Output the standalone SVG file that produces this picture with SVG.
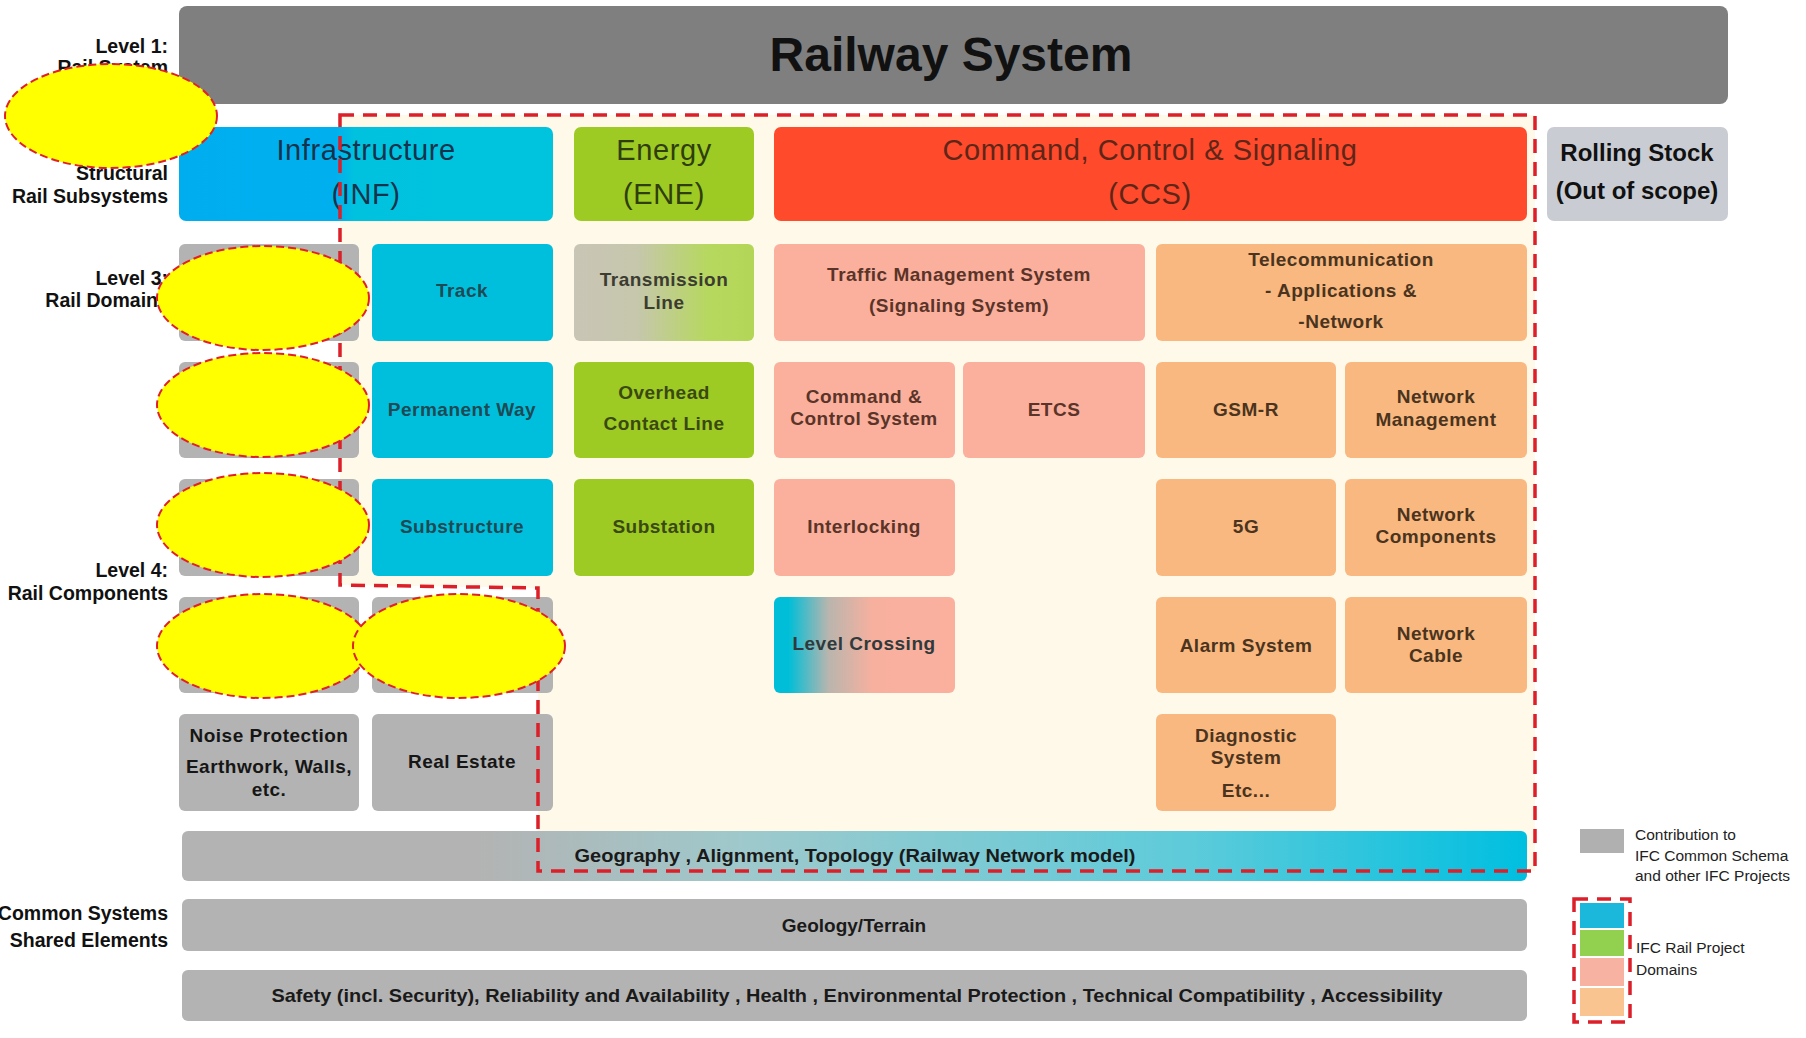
<svg xmlns="http://www.w3.org/2000/svg" width="1806" height="1038" viewBox="0 0 1806 1038">
<defs>
<style>
.lbl{font-family:"Liberation Sans",Arial,sans-serif;font-weight:bold;font-size:19.5px;fill:#111;text-anchor:end}
.ttl{font-family:"Liberation Sans",Arial,sans-serif;font-size:29px;letter-spacing:0.6px;text-anchor:middle}
.bx{font-family:"Liberation Sans",Arial,sans-serif;font-weight:bold;font-size:19px;letter-spacing:0.5px;text-anchor:middle}
.band{font-family:"Liberation Sans",Arial,sans-serif;font-weight:bold;font-size:19px;text-anchor:middle;fill:#1a1a1a}
.leg{font-family:"Liberation Sans",Arial,sans-serif;font-size:15.5px;fill:#222}
.cy{fill:#00BFDD}.gr{fill:#9DCB24}.sa{fill:#FBB09E}.pe{fill:#F9B87F}.gy{fill:#B3B3B3}
.tcy{fill:#1d4a54}.tgr{fill:#3a4812}.tsa{fill:#5a3428}.tpe{fill:#4a3420}.tgy{fill:#161616}
.ell{fill:#FFFF00;stroke:#E0202A;stroke-width:2;stroke-dasharray:8 4}
</style>
<linearGradient id="gInf" x1="0" x2="1" y1="0" y2="0">
<stop offset="0" stop-color="#00AEEF"/><stop offset="0.42" stop-color="#00B0EE"/><stop offset="0.47" stop-color="#00C2DF"/><stop offset="1" stop-color="#00C4DD"/>
</linearGradient>
<linearGradient id="gTrans" x1="0" x2="1" y1="0" y2="0">
<stop offset="0" stop-color="#C9C5B6"/><stop offset="0.35" stop-color="#C6C7AC"/><stop offset="0.75" stop-color="#B6D85E"/><stop offset="1" stop-color="#B4D657"/>
</linearGradient>
<linearGradient id="gLC" x1="0" x2="1" y1="0" y2="0">
<stop offset="0" stop-color="#00BED8"/><stop offset="0.08" stop-color="#00BED8"/><stop offset="0.3" stop-color="#B9B5AE"/><stop offset="0.55" stop-color="#F8B09E"/><stop offset="1" stop-color="#FBB09E"/>
</linearGradient>
<linearGradient id="gGeo" x1="0" x2="1" y1="0" y2="0">
<stop offset="0" stop-color="#B3B3B3"/><stop offset="0.22" stop-color="#B3B3B3"/><stop offset="0.42" stop-color="#9EC9CC"/><stop offset="0.75" stop-color="#5DCBDA"/><stop offset="1" stop-color="#00BFE0"/>
</linearGradient>
</defs>
<rect width="1806" height="1038" fill="#FFFFFF"/>

<g id="scope-area">
<polygon points="340,115 1535,115 1535,871 538,871 538,588 340,585" fill="#FFF9EA"/>
</g>

<g id="labels">
<text class="lbl" x="168" y="53">Level 1:</text>
<text class="lbl" x="168" y="74">Rail System</text>
<text class="lbl" x="168" y="180">Structural</text>
<text class="lbl" x="168" y="203">Rail Subsystems</text>
<text class="lbl" x="168" y="285">Level 3:</text>
<text class="lbl" x="158" y="307">Rail Domain</text>
<text class="lbl" x="168" y="577">Level 4:</text>
<text class="lbl" x="168" y="600">Rail Components</text>
<text class="lbl" x="168" y="920">Common Systems</text>
<text class="lbl" x="168" y="947">Shared Elements</text>
</g>

<g id="railway-system">
<rect x="179" y="6" width="1549" height="98" rx="8" fill="#7F7F7F"/>
<text x="951" y="71" font-family="Liberation Sans, Arial, sans-serif" font-weight="bold" font-size="48" text-anchor="middle" fill="#111">Railway System</text>
</g>

<g id="inf">
<rect x="179" y="127" width="374" height="94" rx="7" fill="url(#gInf)"/>
<text class="ttl" x="366" y="160" fill="#16334d">Infrastructure</text>
<text class="ttl" x="366" y="204" fill="#16334d">(INF)</text>
</g>
<g id="ene">
<rect x="574" y="127" width="180" height="94" rx="7" class="gr"/>
<text class="ttl" x="664" y="160" fill="#2f3e0c">Energy</text>
<text class="ttl" x="664" y="204" fill="#2f3e0c">(ENE)</text>
</g>
<g id="ccs">
<rect x="774" y="127" width="753" height="94" rx="7" fill="#FF4A2B"/>
<text class="ttl" x="1150" y="160" fill="#5e2618">Command, Control &amp; Signaling</text>
<text class="ttl" x="1150" y="204" fill="#5e2618">(CCS)</text>
</g>
<g id="rolling-stock">
<rect x="1547" y="127" width="181" height="94" rx="7" fill="#C9CDD3"/>
<text x="1637" y="161" font-family="Liberation Sans, Arial, sans-serif" font-weight="bold" font-size="24" text-anchor="middle" fill="#111">Rolling Stock</text>
<text x="1637" y="199" font-family="Liberation Sans, Arial, sans-serif" font-weight="bold" font-size="24" text-anchor="middle" fill="#111">(Out of scope)</text>
</g>

<g id="gray-r3"><rect x="179" y="244" width="180" height="97" rx="6" class="gy"/></g>
<g id="gray-r4"><rect x="179" y="362" width="180" height="96" rx="6" class="gy"/></g>
<g id="gray-r5"><rect x="179" y="479" width="180" height="97" rx="6" class="gy"/></g>
<g id="gray-r6a"><rect x="179" y="597" width="180" height="96" rx="6" class="gy"/></g>
<g id="gray-r6b"><rect x="372" y="597" width="181" height="96" rx="6" class="gy"/></g>

<g id="track"><rect x="372" y="244" width="181" height="97" rx="6" class="cy"/><text class="bx tcy" x="462" y="297">Track</text></g>
<g id="permanent-way"><rect x="372" y="362" width="181" height="96" rx="6" class="cy"/><text class="bx tcy" x="462" y="416">Permanent Way</text></g>
<g id="substructure"><rect x="372" y="479" width="181" height="97" rx="6" class="cy"/><text class="bx tcy" x="462" y="533">Substructure</text></g>

<g id="transmission-line"><rect x="574" y="244" width="180" height="97" rx="6" fill="url(#gTrans)"/><text class="bx" x="664" y="286" fill="#3c3c30">Transmission</text><text class="bx" x="664" y="309" fill="#3c3c30">Line</text></g>
<g id="overhead-contact-line"><rect x="574" y="362" width="180" height="96" rx="6" class="gr"/><text class="bx tgr" x="664" y="399">Overhead</text><text class="bx tgr" x="664" y="430">Contact Line</text></g>
<g id="substation"><rect x="574" y="479" width="180" height="97" rx="6" class="gr"/><text class="bx tgr" x="664" y="533">Substation</text></g>

<g id="traffic-management"><rect x="774" y="244" width="371" height="97" rx="6" class="sa"/><text class="bx tsa" x="959" y="281">Traffic Management System</text><text class="bx tsa" x="959" y="312">(Signaling System)</text></g>
<g id="command-control"><rect x="774" y="362" width="181" height="96" rx="6" class="sa"/><text class="bx tsa" x="864" y="403">Command &amp;</text><text class="bx tsa" x="864" y="425">Control System</text></g>
<g id="etcs"><rect x="963" y="362" width="182" height="96" rx="6" class="sa"/><text class="bx tsa" x="1054" y="416">ETCS</text></g>
<g id="interlocking"><rect x="774" y="479" width="181" height="97" rx="6" class="sa"/><text class="bx tsa" x="864" y="533">Interlocking</text></g>
<g id="level-crossing"><rect x="774" y="597" width="181" height="96" rx="6" fill="url(#gLC)"/><text class="bx" x="864" y="650" fill="#303a3c">Level Crossing</text></g>

<g id="telecommunication"><rect x="1156" y="244" width="371" height="97" rx="6" class="pe"/><text class="bx tpe" x="1341" y="266">Telecommunication</text><text class="bx tpe" x="1341" y="297">- Applications &amp;</text><text class="bx tpe" x="1341" y="328">-Network</text></g>
<g id="gsm-r"><rect x="1156" y="362" width="180" height="96" rx="6" class="pe"/><text class="bx tpe" x="1246" y="416">GSM-R</text></g>
<g id="network-management"><rect x="1345" y="362" width="182" height="96" rx="6" class="pe"/><text class="bx tpe" x="1436" y="403">Network</text><text class="bx tpe" x="1436" y="426">Management</text></g>
<g id="g5"><rect x="1156" y="479" width="180" height="97" rx="6" class="pe"/><text class="bx tpe" x="1246" y="533">5G</text></g>
<g id="network-components"><rect x="1345" y="479" width="182" height="97" rx="6" class="pe"/><text class="bx tpe" x="1436" y="521">Network</text><text class="bx tpe" x="1436" y="543">Components</text></g>
<g id="alarm-system"><rect x="1156" y="597" width="180" height="96" rx="6" class="pe"/><text class="bx tpe" x="1246" y="652">Alarm System</text></g>
<g id="network-cable"><rect x="1345" y="597" width="182" height="96" rx="6" class="pe"/><text class="bx tpe" x="1436" y="640">Network</text><text class="bx tpe" x="1436" y="662">Cable</text></g>
<g id="diagnostic-system"><rect x="1156" y="714" width="180" height="97" rx="6" class="pe"/><text class="bx tpe" x="1246" y="742">Diagnostic</text><text class="bx tpe" x="1246" y="764">System</text><text class="bx tpe" x="1246" y="797">Etc...</text></g>

<g id="noise-protection"><rect x="179" y="714" width="180" height="97" rx="6" class="gy"/><text class="bx tgy" x="269" y="742">Noise Protection</text><text class="bx tgy" x="269" y="773">Earthwork, Walls,</text><text class="bx tgy" x="269" y="796">etc.</text></g>
<g id="real-estate"><rect x="372" y="714" width="181" height="97" rx="6" class="gy"/><text class="bx tgy" x="462" y="768">Real Estate</text></g>

<g id="geography"><rect x="182" y="831" width="1345" height="50" rx="6" fill="url(#gGeo)"/><text class="band" x="855" y="862" fill="#2a3a3a" textLength="561" lengthAdjust="spacingAndGlyphs">Geography , Alignment, Topology (Railway Network model)</text></g>
<g id="geology"><rect x="182" y="899" width="1345" height="52" rx="6" class="gy"/><text class="band" x="854" y="932">Geology/Terrain</text></g>
<g id="safety"><rect x="182" y="970" width="1345" height="51" rx="6" class="gy"/><text class="band" x="857" y="1002" textLength="1171" lengthAdjust="spacingAndGlyphs">Safety (incl. Security), Reliability and Availability , Health , Environmental Protection , Technical Compatibility , Accessibility</text></g>

<g id="connectors">
<polygon points="340,115 1535,115 1535,871 538,871 538,588 340,585" fill="none" stroke="#DC1F28" stroke-width="3.5" stroke-dasharray="14 9"/>
</g>

<g id="masks">
<ellipse class="ell" cx="111" cy="116" rx="106" ry="52"/>
<ellipse class="ell" cx="263" cy="298" rx="106" ry="52"/>
<ellipse class="ell" cx="263" cy="405" rx="106" ry="52"/>
<ellipse class="ell" cx="263" cy="525" rx="106" ry="52"/>
<ellipse class="ell" cx="263" cy="646" rx="106" ry="52"/>
<ellipse class="ell" cx="459" cy="646" rx="106" ry="52"/>
</g>

<g id="legend">
<rect x="1580" y="829" width="44" height="24" fill="#B0B0B0"/>
<text class="leg" x="1635" y="840">Contribution to</text>
<text class="leg" x="1635" y="861">IFC Common Schema</text>
<text class="leg" x="1635" y="881">and other IFC Projects</text>
<rect x="1580" y="903" width="44" height="25" fill="#1BB8DC"/>
<rect x="1580" y="930" width="44" height="26" fill="#92D050"/>
<rect x="1580" y="958" width="44" height="28" fill="#F8B2A2"/>
<rect x="1580" y="988" width="44" height="28" fill="#F9C48F"/>
<rect x="1574" y="899" width="56" height="123" fill="none" stroke="#DC1F28" stroke-width="3.5" stroke-dasharray="14 9"/>
<text class="leg" x="1636" y="953">IFC Rail Project</text>
<text class="leg" x="1636" y="975">Domains</text>
</g>
</svg>
